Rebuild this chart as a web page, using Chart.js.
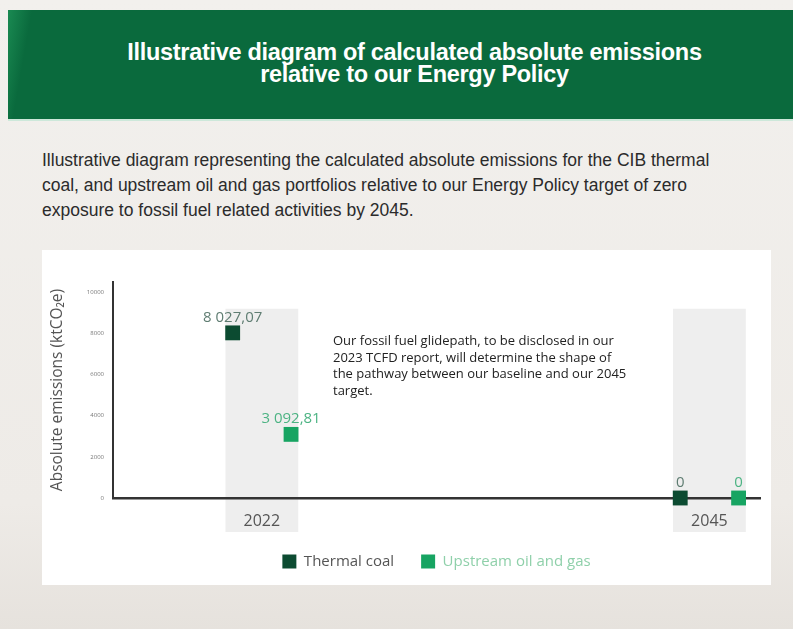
<!DOCTYPE html>
<html>
<head>
<meta charset="utf-8">
<title>Absolute emissions</title>
<script src="https://cdn.jsdelivr.net/npm/chart.js@4.4.1/dist/chart.umd.min.js"></script>
<style>
  body {
    margin: 0;
    width: 793px;
    height: 629px;
    overflow: hidden;
    position: relative;
    background: linear-gradient(180deg, #f2f0ed 0%, #eeebe7 80%, #e6e2dd 100%);
    font-family: "Open Sans", sans-serif;
  }
  #header {
    position: absolute;
    left: 8px;
    top: 10px;
    width: 785px;
    height: 109px;
    background: linear-gradient(100deg, #1a8a52 0, #0a6a3d 3%, #0a6a3d 100%);
    border-bottom: 2px solid #cde8da;
  }
  #header h1 {
    margin: 0;
    padding: 31px 0 0 28px;
    text-align: center;
    color: #fff;
    font: bold 23.5px/22px "Liberation Sans", sans-serif;
    letter-spacing: -0.3px;
  }
  #intro {
    position: absolute;
    left: 42px;
    top: 148px;
    width: 690px;
    margin: 0;
    font: 17.5px/25px "Liberation Sans", sans-serif;
    color: #2b2b2b;
  }
  #box {
    position: absolute;
    left: 42px;
    top: 250px;
    width: 729px;
    height: 335px;
    background: #fff;
  }
  #note {
    position: absolute;
    left: 291px;
    top: 82px;
    width: 296px;
    font-size: 13px;
    line-height: 16.5px;
    color: #222;
  }
</style>
</head>
<body>
<div id="header">
  <h1>Illustrative diagram of calculated absolute emissions<br>relative to our Energy Policy</h1>
</div>
<p id="intro">Illustrative diagram representing the calculated absolute emissions for the CIB thermal coal, and upstream oil and gas portfolios relative to our Energy Policy target of zero exposure to fossil fuel related activities by 2045.</p>
<div id="box">
  <canvas id="chart" width="729" height="335"></canvas>
  <div id="note">Our fossil fuel glidepath, to be disclosed in our 2023 TCFD report, will determine the shape of the pathway between our baseline and our 2045 target.</div>
</div>
<script>
const years = [2022, 2045];
const thermalCoal = [8027.07, 0];
const upstreamOilGas = [3092.81, 0];
const seriesNames = ["Thermal coal", "Upstream oil and gas"];
const yTicks = [0, 2000, 4000, 6000, 8000, 10000];

const COLORS = ["#0c4b31", "#17a462"];
const LABEL_COLORS = ["#5f7d72", "#4cb383"];
const LEGEND_TEXT = ["#555555", "#8fd0aa"];
const OFFSET = [-1.5, 1.5]; // years either side of the category centre

function formatValue(v) {
  if (v === 0) return "0";
  const parts = v.toFixed(2).split(".");
  return parts[0].replace(/\B(?=(\d{3})+(?!\d))/g, " ") + "," + parts[1];
}

const yearBands = {
  id: "yearBands",
  beforeDraw(chart) {
    const { ctx, chartArea, scales } = chart;
    const top = scales.y.getPixelForValue(9200);
    ctx.save();
    ctx.fillStyle = "#eeeeee";
    years.forEach((yr) => {
      const l = scales.x.getPixelForValue(yr - 1.87);
      const r = scales.x.getPixelForValue(yr + 1.87);
      ctx.fillRect(l, top, r - l, chartArea.bottom + 34 - top);
    });
    ctx.restore();
  },
};

const pointLabels = {
  id: "pointLabels",
  afterDatasetsDraw(chart) {
    const ctx = chart.ctx;
    ctx.save();
    ctx.font = "15px 'Open Sans'";
    ctx.textAlign = "center";
    ctx.textBaseline = "alphabetic";
    chart.data.datasets.forEach((ds, i) => {
      chart.getDatasetMeta(i).data.forEach((pt, j) => {
        ctx.fillStyle = LABEL_COLORS[i];
        ctx.fillText(formatValue(ds.data[j].y), pt.x, pt.y - 11);
      });
    });
    ctx.restore();
  },
};

const series = [thermalCoal, upstreamOilGas];

new Chart(document.getElementById("chart"), {
  type: "scatter",
  data: {
    datasets: series.map((vals, i) => ({
      label: seriesNames[i],
      data: years.map((yr, j) => ({ x: yr + OFFSET[i], y: vals[j] })),
      pointStyle: "rect",
      pointRadius: 10.5,
      pointHoverRadius: 10.5,
      backgroundColor: COLORS[i],
      borderColor: COLORS[i],
      borderWidth: 0,
      clip: false,
    })),
  },
  options: {
    responsive: false,
    animation: false,
    layout: { padding: { top: 32, right: 11, bottom: 6, left: 0 } },
    scales: {
      x: {
        type: "linear",
        min: 2014.35,
        max: 2047.6,
        grid: { display: false },
        border: { color: "#333", width: 2.5 },
        afterBuildTicks: (s) => {
          s.ticks = years.map((v) => ({ value: v }));
        },
        afterFit: (s) => {
          s.height = 29;
        },
        ticks: {
          autoSkip: false,
          padding: 6,
          color: "#555",
          font: { family: "Open Sans", size: 16 },
          callback: (v) => String(v),
        },
      },
      y: {
        min: 0,
        max: 10500,
        grid: { display: false },
        border: { color: "#333", width: 2 },
        afterBuildTicks: (s) => {
          s.ticks = yTicks.map((v) => ({ value: v }));
        },
        afterFit: (s) => {
          s.width = 71;
        },
        ticks: {
          padding: 1,
          color: "#777",
          font: { family: "Open Sans", size: 6 },
          callback: (v) => String(v),
        },
        title: {
          display: true,
          text: "Absolute emissions (ktCO₂e)",
          color: "#555",
          font: { family: "Open Sans", size: 15.5 },
          padding: { top: 6, bottom: 0 },
        },
      },
    },
    plugins: {
      tooltip: { enabled: false },
      legend: {
        position: "bottom",
        fullSize: false,
        labels: {
          usePointStyle: true,
          boxWidth: 14,
          boxHeight: 14,
          padding: 27,
          font: { family: "Open Sans", size: 15 },
          generateLabels: () =>
            seriesNames.map((name, i) => ({
              text: name,
              fillStyle: COLORS[i],
              strokeStyle: COLORS[i],
              fontColor: LEGEND_TEXT[i],
              lineWidth: 0,
              pointStyle: "rect",
              datasetIndex: i,
            })),
        },
      },
    },
  },
  plugins: [yearBands, pointLabels],
});
</script>
</body>
</html>
